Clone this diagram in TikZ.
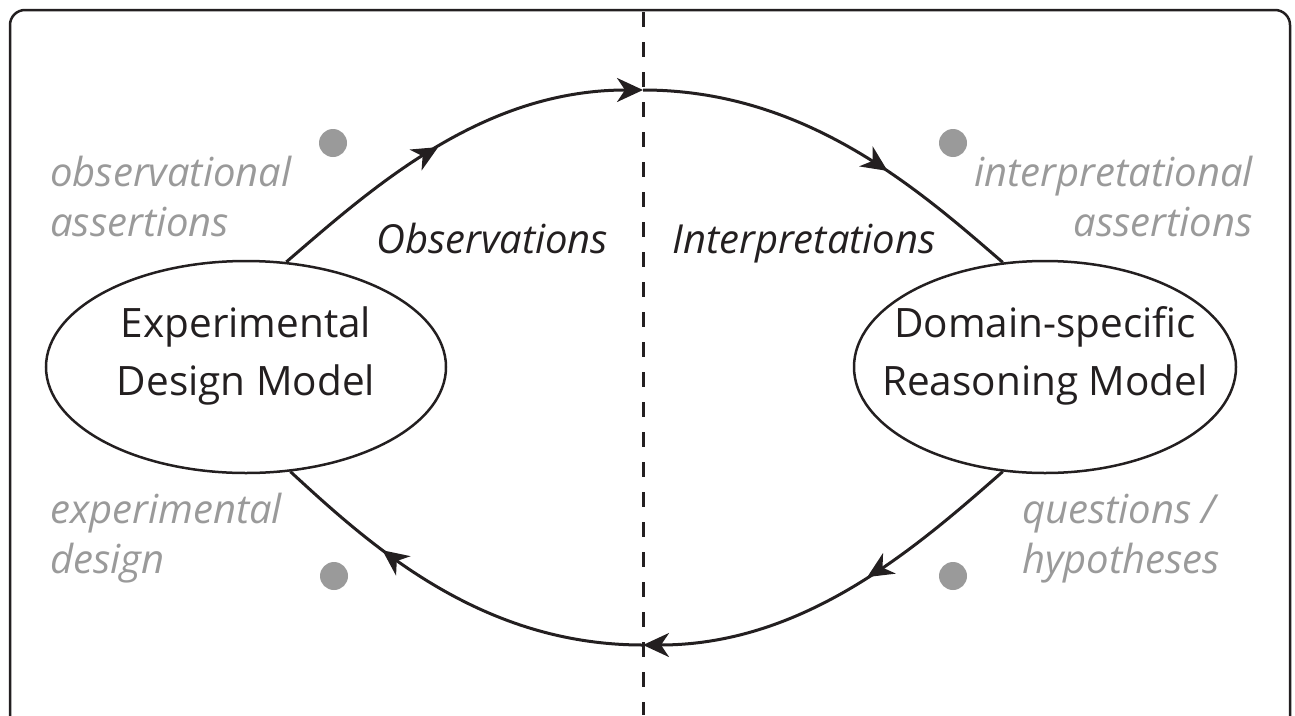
\documentclass[tikz,border=0pt]{standalone}
\usepackage{fontspec}
\setmainfont{Open Sans}
\usetikzlibrary{arrows.meta,shapes.geometric,decorations.markings}
\definecolor{ink}{HTML}{231F20}
\definecolor{soft}{HTML}{9A9A9A}
\tikzset{
  model/.style={draw=ink,line width=2.5pt,ellipse,inner sep=0pt},
  flow/.style={draw=ink,line width=3pt},
  tipend/.style={-{Stealth[length=26pt,width=24pt,inset=8pt]}},
  midtip/.style={postaction={decorate},decoration={markings,mark=at position #1 with {\arrow{Stealth[length=26pt,width=24pt,inset=8pt]}}}},
  hint/.style={text=soft,inner sep=0pt,font=\fontsize{40}{50}\selectfont\itshape},
  side/.style={text=ink,inner sep=0pt,font=\fontsize{40}{50}\selectfont\itshape},
  dot/.style={circle,fill=soft,minimum size=28pt,inner sep=0pt},
  modeltext/.style={text=ink,inner sep=0pt,font=\fontsize{40.5}{58}\selectfont},
  frame/.style={draw=ink,line width=2.5pt,rounded corners=15pt},
  divider/.style={draw=ink,line width=3pt,dash pattern=on 15pt off 15pt}
}
\begin{document}
\begin{tikzpicture}[x=1pt,y=-1pt]
\useasboundingbox (0,0) rectangle (1295,715);
% frame
\path[frame] (10,716) -- (10,10) -- (1290,10) -- (1290,716);
% divider
\coordinate (dt) at (643,12);
\coordinate (db) at (643,715);
\path[divider] (dt) -- (db);
% models
\node[model,minimum width=400pt,minimum height=212pt] (L) at (246,367) {};
\node[model,minimum width=382pt,minimum height=212pt] (R) at (1045,367) {};
\node[modeltext,anchor=base] (Lt) at (246,337) {\begin{tabular}[t]{@{}c@{}}Experimental\\Design Model\end{tabular}};
\node[modeltext,anchor=base] (Rt) at (1045,337) {\begin{tabular}[t]{@{}c@{}}Domain-specific\\Reasoning Model\end{tabular}};
% cycle points
\coordinate (T) at (643,90);
\coordinate (B) at (643,645);
% connectors
\draw[flow,tipend,midtip=0.47] (L.69) .. controls (370,190) and (480,90) .. (T);
\draw[flow,midtip=0.64] (T) .. controls (806,90) and (919,190) .. (R.112);
\draw[flow,tipend,midtip=0.42] (R.248) .. controls (919,545) and (806,645) .. (B);
\draw[flow,midtip=0.70] (B) .. controls (480,645) and (370,545) .. (L.293);
% side labels
\node[side,anchor=base west] (obs) at (376,253) {Observations};
\node[side,anchor=base west] (int) at (672,253) {Interpretations};
% hints
\node[hint,anchor=base west] (h1) at (50,186) {\begin{tabular}[t]{@{}l@{}}observational\\assertions\end{tabular}};
\node[hint,anchor=base east] (h2) at (1253,186) {\begin{tabular}[t]{@{}r@{}}interpretational\\assertions\end{tabular}};
\node[hint,anchor=base west] (h3) at (50,523) {\begin{tabular}[t]{@{}l@{}}experimental\\design\end{tabular}};
\node[hint,anchor=base west] (h4) at (1022,523) {\begin{tabular}[t]{@{}l@{}}questions /\\hypotheses\end{tabular}};
% dots
\node[dot] (d1) at (333,143) {};
\node[dot] (d2) at (953,143) {};
\node[dot] (d3) at (334,576) {};
\node[dot] (d4) at (953,576) {};
\end{tikzpicture}
\end{document}
